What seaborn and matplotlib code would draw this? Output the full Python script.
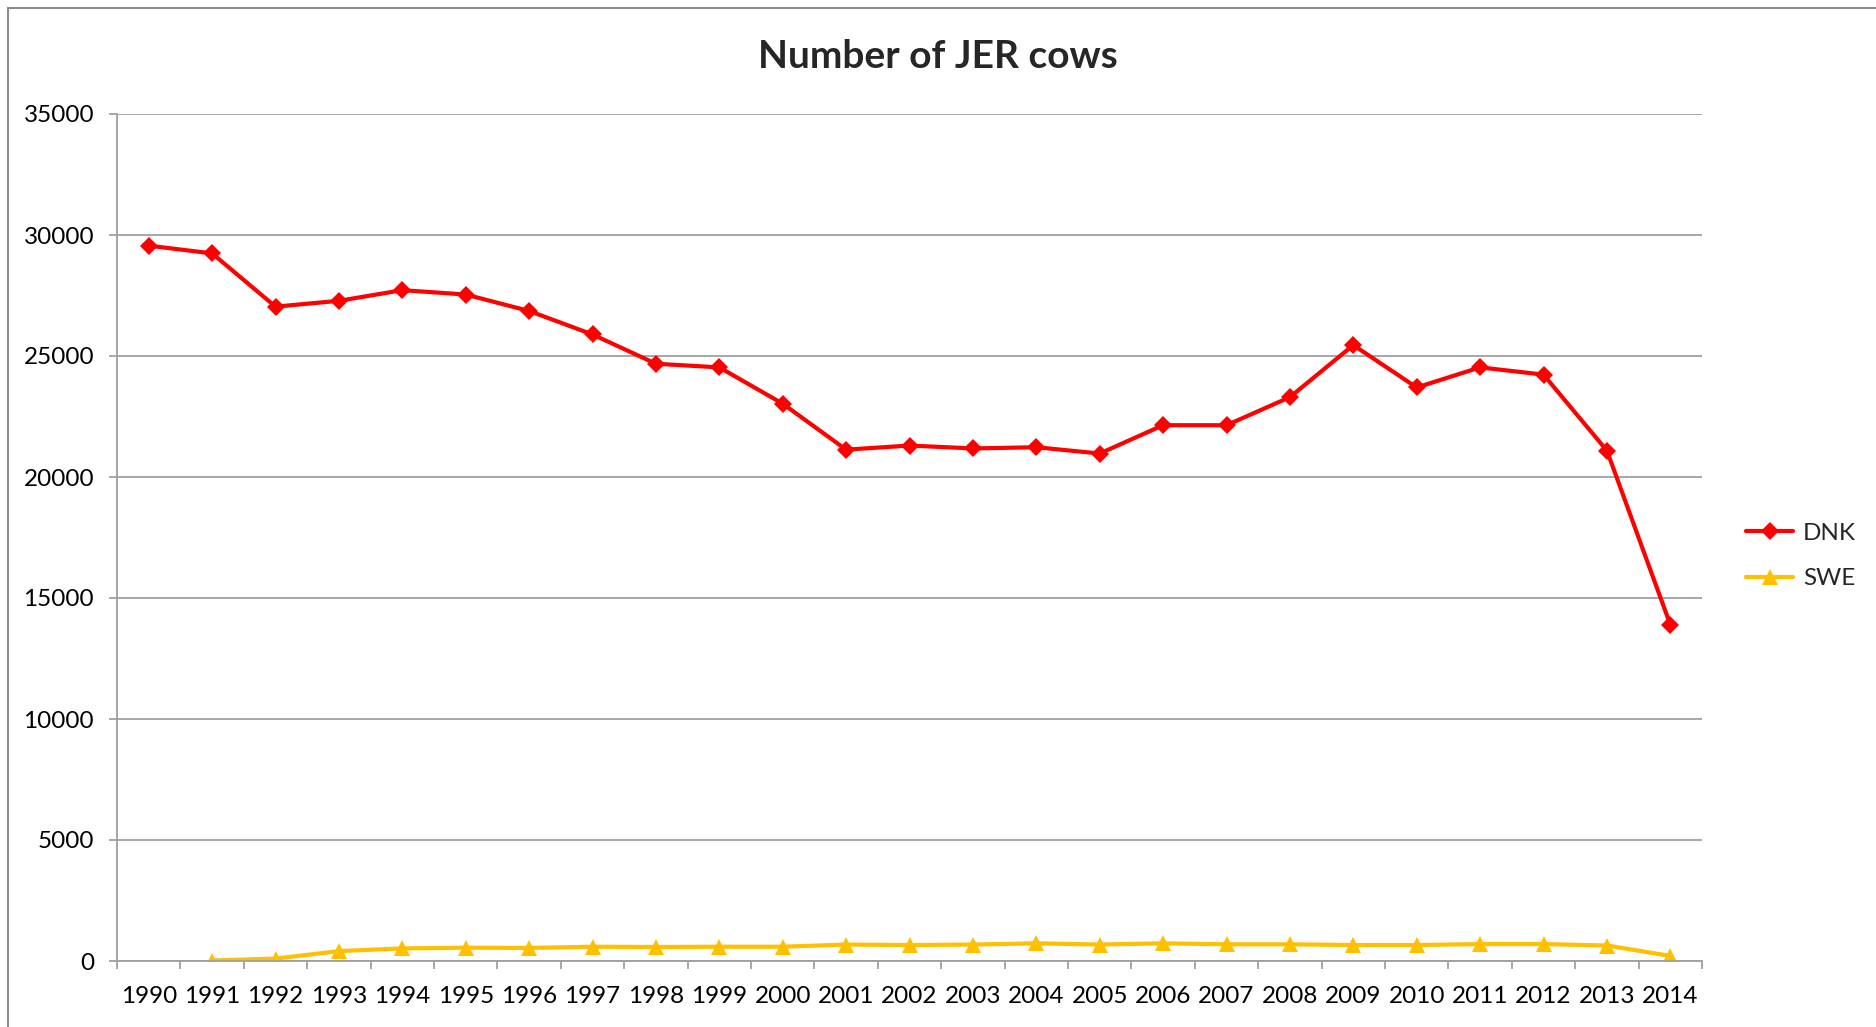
import numpy as np
import pandas as pd
import matplotlib
matplotlib.use('Agg')
import matplotlib.pyplot as plt
import seaborn as sns
from matplotlib.patches import Rectangle

# Data
years = list(range(1990, 2015))
dnk = [29560, 29240, 27040, 27280, 27720, 27540, 26860, 25890, 24680, 24530,
       23030, 21130, 21300, 21180, 21230, 20970, 22140, 22140, 23300, 25450,
       23700, 24530, 24230, 21090, 13900]
swe_years = list(range(1991, 2015))
swe = [20, 100, 410, 520, 550, 540, 590, 580, 590, 590,
       680, 660, 680, 730, 680, 730, 690, 690, 660, 660,
       700, 700, 640, 210]

df_dnk = pd.DataFrame({'Year': years, 'Cows': dnk})
df_swe = pd.DataFrame({'Year': swe_years, 'Cows': swe})

sns.set_style('white')
plt.rcParams['font.family'] = ['Lato', 'DejaVu Sans']

W, H = 1876, 1027
fig = plt.figure(figsize=(W / 100, H / 100), dpi=100)
ax = fig.add_axes([117 / W, 1 - 961 / H, (1702 - 117) / W, (961 - 114) / H])

grey = '#a0a0a0'

sns.lineplot(data=df_dnk, x='Year', y='Cows', ax=ax, color='#ff0000', linewidth=3,
             marker='D', markersize=9, markeredgecolor='#ff0000', markeredgewidth=0,
             label='DNK')
sns.lineplot(data=df_swe, x='Year', y='Cows', ax=ax, color='#ffc000', linewidth=3,
             marker='^', markersize=11, markeredgecolor='#ffc000', markeredgewidth=0,
             label='SWE')

ax.set_xlim(1989.5, 2014.5)
ax.set_ylim(0, 35000)
ax.set_yticks(np.arange(0, 35001, 5000))
ax.set_xticks(years)
ax.set_xticks(np.arange(1989.5, 2015, 1), minor=True)
ax.set_xlabel('')
ax.set_ylabel('')

ax.yaxis.grid(True, color=grey, linewidth=1.3)
ax.xaxis.grid(False)
for side in ['top', 'right']:
    ax.spines[side].set_visible(False)
for side in ['left', 'bottom']:
    ax.spines[side].set_color(grey)
    ax.spines[side].set_linewidth(1.3)

ax.tick_params(axis='y', which='major', left=True, length=6, width=1.3, color=grey,
               pad=10.5, labelsize=17.5, labelcolor='black')
ax.tick_params(axis='x', which='major', bottom=True, length=0, pad=18,
               labelsize=17.5, labelcolor='black')
ax.tick_params(axis='x', which='minor', bottom=True, length=6, width=1.3, color=grey)

ax.get_legend().remove()
handles, labels = ax.get_legend_handles_labels()
fig.legend(handles, labels, loc='center left', bbox_to_anchor=(1724 / W, 1 - 556 / H),
           frameon=False, fontsize=17.5, handlelength=1.95, handletextpad=0.4,
           labelspacing=1.0)

fig.text(0.5, 1 - 56 / H, 'Number of JER cows', ha='center', va='center',
         fontsize=28, fontweight='bold')

# outer chart border (right and bottom edges fall outside the image)
fig.patches.append(Rectangle((8 / W, -0.1), 1.2, 1.1 - 8 / H, transform=fig.transFigure,
                             fill=False, edgecolor='#8c8c8c', linewidth=1.5))

fig.savefig('out.png', dpi=100)
